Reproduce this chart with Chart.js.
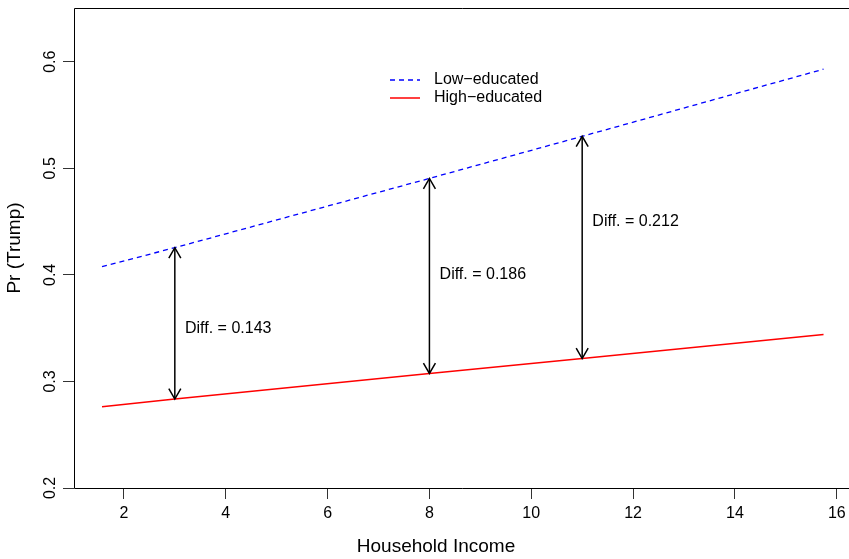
<!DOCTYPE html>
<html>
<head>
<meta charset="utf-8">
<script src="https://cdn.jsdelivr.net/npm/chart.js@4"></script>
<style>
  html, body { margin: 0; padding: 0; background: #fff; overflow: hidden; }
  #wrap { width: 849px; height: 559px; }
</style>
</head>
<body>
<div id="wrap"><canvas id="myIncomeChart"></canvas></div>
<script>
// predicted Pr(Trump) by household income
const incomeX = [1.57, 3, 8, 11, 15.74]
const lowEdu = [0.4078, 0.4255, 0.4905, 0.5300, 0.5930]
const highEdu = [0.2763, 0.2835, 0.3075, 0.3215, 0.3440]

// arrows showing the gap
const arrowX = [3, 8, 11]
const arrowTop = [0.4255, 0.4905, 0.5300]
const arrowBottom = [0.2835, 0.3075, 0.3215]
const diffLabels = ['Diff. = 0.143', 'Diff. = 0.186', 'Diff. = 0.212']
const diffLabelY = [0.35, 0.40, 0.45]

const xTicks = [2, 4, 6, 8, 10, 12, 14, 16]
const yTicks = [0.2, 0.3, 0.4, 0.5, 0.6]

const FONT = 'Liberation Sans, Arial, Helvetica, sans-serif'

const toPoints = (xs, ys) => xs.map((x, i) => ({x: x, y: ys[i]}))

const datasets = [
  {
    label: 'Low-educated',
    data: toPoints(incomeX, lowEdu),
    borderColor: '#0000ff',
    borderWidth: 1.3,
    borderDash: [5, 4],
    pointRadius: 0,
    fill: false
  },
  {
    label: 'High-educated',
    data: toPoints(incomeX, highEdu),
    borderColor: '#ff0000',
    borderWidth: 1.5,
    pointRadius: 0,
    fill: false
  }
]
arrowX.forEach((x, i) => {
  datasets.push({
    label: 'arrow' + i,
    data: [{x: x, y: arrowBottom[i]}, {x: x, y: arrowTop[i]}],
    borderColor: '#000',
    borderWidth: 1.5,
    pointRadius: 0,
    fill: false
  })
})

// box, arrow heads, diff labels, legend and x title
const extras = {
  id: 'extras',
  afterDatasetsDraw(chart) {
    const ctx = chart.ctx
    const xs = chart.scales.x
    const ys = chart.scales.y
    const area = chart.chartArea
    ctx.save()
    // arrow heads
    ctx.strokeStyle = '#000'
    ctx.lineWidth = 1.5
    const headLen = 12
    const ang = Math.PI / 6
    arrowX.forEach((x, i) => {
      const px = xs.getPixelForValue(x)
      const pTop = ys.getPixelForValue(arrowTop[i])
      const pBot = ys.getPixelForValue(arrowBottom[i])
      ctx.beginPath()
      ctx.moveTo(px - headLen * Math.sin(ang), pTop + headLen * Math.cos(ang))
      ctx.lineTo(px, pTop)
      ctx.lineTo(px + headLen * Math.sin(ang), pTop + headLen * Math.cos(ang))
      ctx.moveTo(px - headLen * Math.sin(ang), pBot - headLen * Math.cos(ang))
      ctx.lineTo(px, pBot)
      ctx.lineTo(px + headLen * Math.sin(ang), pBot - headLen * Math.cos(ang))
      ctx.stroke()
    })
    // diff labels
    ctx.fillStyle = '#000'
    ctx.font = '16px ' + FONT
    ctx.textAlign = 'left'
    ctx.textBaseline = 'middle'
    arrowX.forEach((x, i) => {
      ctx.fillText(diffLabels[i], xs.getPixelForValue(x + 0.2), ys.getPixelForValue(diffLabelY[i]))
    })
    // legend
    const lx = area.left + 316
    const ly = area.top + 72
    ctx.lineWidth = 1.3
    ctx.strokeStyle = '#0000ff'
    ctx.setLineDash([5, 4])
    ctx.beginPath()
    ctx.moveTo(lx, ly)
    ctx.lineTo(lx + 30, ly)
    ctx.stroke()
    ctx.setLineDash([])
    ctx.strokeStyle = '#ff0000'
    ctx.lineWidth = 1.5
    ctx.beginPath()
    ctx.moveTo(lx, ly + 18)
    ctx.lineTo(lx + 30, ly + 18)
    ctx.stroke()
    ctx.fillText('Low\u2212educated', lx + 44, ly)
    ctx.fillText('High\u2212educated', lx + 44, ly + 18)
    // x axis title
    ctx.font = '19px ' + FONT
    ctx.textAlign = 'center'
    ctx.fillText('Household Income', area.left + 362, chart.height - 12)
    // box (right side falls outside the picture)
    const l = Math.round(area.left) + 0.5
    const t = Math.round(area.top) + 0.5
    const b = Math.round(area.bottom) + 0.5
    ctx.strokeStyle = '#000'
    ctx.lineWidth = 1
    ctx.beginPath()
    ctx.moveTo(area.right + 2, t)
    ctx.lineTo(l, t)
    ctx.lineTo(l, b)
    ctx.lineTo(area.right + 2, b)
    ctx.stroke()
    ctx.restore()
  }
}

const config = {
  type: 'line',
  data: { datasets: datasets },
  options: {
    responsive: true,
    maintainAspectRatio: false,
    animation: false,
    layout: { padding: { top: 8, right: 0, left: 0, bottom: 0 } },
    plugins: {
      legend: { display: false },
      tooltip: { enabled: false }
    },
    scales: {
      x: {
        type: 'linear',
        min: 1.02,
        max: 16.24,
        afterBuildTicks: scale => { scale.ticks = xTicks.map(v => ({value: v})) },
        afterFit: scale => {
          scale.height = 71
          scale.paddingLeft = 0
          scale.paddingRight = 0
        },
        border: { display: false },
        grid: { drawOnChartArea: false, tickLength: 11, color: '#333', lineWidth: 1 },
        ticks: {
          color: '#000',
          font: { family: FONT, size: 16 },
          padding: 5,
          maxRotation: 0,
          minRotation: 0
        },
        title: { display: false }
      },
      y: {
        type: 'linear',
        min: 0.2,
        max: 0.6504,
        afterBuildTicks: scale => { scale.ticks = yTicks.map(v => ({value: v})) },
        afterFit: scale => {
          scale.width = 74
          scale.paddingTop = 0
          scale.paddingBottom = 0
        },
        border: { display: false },
        grid: { drawOnChartArea: false, tickLength: 11, color: '#333', lineWidth: 1 },
        ticks: {
          color: '#000',
          font: { family: FONT, size: 16 },
          padding: 1,
          minRotation: 90,
          maxRotation: 90,
          crossAlign: 'center',
          callback: v => v.toFixed(1)
        },
        title: {
          display: true,
          text: 'Pr (Trump)',
          color: '#000',
          font: { family: FONT, size: 19 },
          padding: { top: 3, bottom: 0 }
        }
      }
    }
  },
  plugins: [extras]
}

const myChart = new Chart(document.getElementById('myIncomeChart'), config)
</script>
</body>
</html>
